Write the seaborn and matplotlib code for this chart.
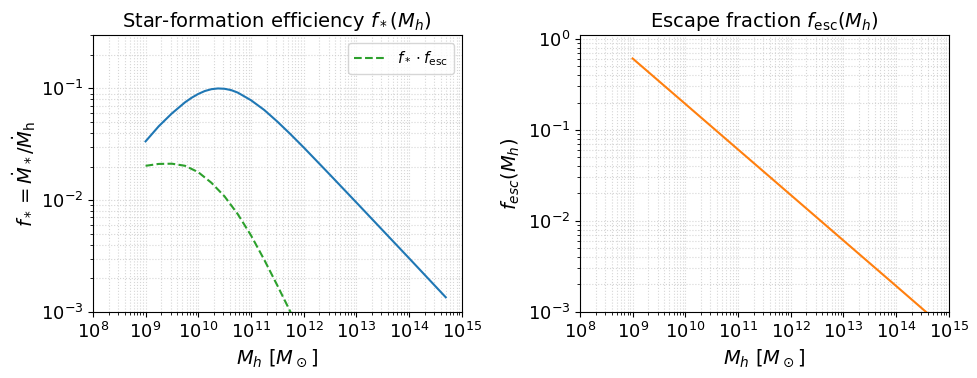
import numpy as np
import matplotlib
matplotlib.use("Agg")
import matplotlib.pyplot as plt
import matplotlib.ticker as mticker
import seaborn as sns

# halo masses [M_sun] and values
mh_star = [1e9, 1.78e9, 3.16e9, 5.62e9, 7.5e9, 1e10, 1.33e10, 1.78e10, 2.37e10,
           3.16e10, 4.22e10, 5.62e10, 1e11, 1.78e11, 3.16e11, 5.62e11, 1e12,
           3.16e12, 1e13, 3.16e13, 1e14, 3.16e14, 5e14]
f_star = [3.36e-2, 4.59e-2, 5.98e-2, 7.52e-2, 8.26e-2, 8.93e-2, 9.48e-2, 9.85e-2,
          1.0e-1, 9.93e-2, 9.66e-2, 9.18e-2, 7.85e-2, 6.43e-2, 5.06e-2, 3.90e-2,
          2.97e-2, 1.69e-2, 9.55e-3, 5.38e-3, 3.03e-3, 1.70e-3, 1.35e-3]

mh_prod = [1e9, 1.78e9, 3.16e9, 5.62e9, 1e10, 1.78e10, 3.16e10, 5.62e10,
           1e11, 1.78e11, 3.16e11, 5.62e11, 1e12]
f_prod = [2.03e-2, 2.11e-2, 2.12e-2, 2.03e-2, 1.78e-2, 1.43e-2, 1.08e-2, 7.5e-3,
          4.85e-3, 2.94e-3, 1.73e-3, 1.00e-3, 5.7e-4]

mh_esc = [1e9, 1e10, 1e11, 1e12, 1e13, 1e14, 5e14]
f_esc = [6.1e-1, 1.93e-1, 6.1e-2, 1.93e-2, 6.1e-3, 1.93e-3, 8.6e-4]

C_BLUE, C_ORANGE, C_GREEN = "#1f77b4", "#ff7f0e", "#2ca02c"

plt.rcParams.update({"font.size": 13, "mathtext.fontset": "dejavusans"})

fig = plt.figure(figsize=(9.78, 3.78), dpi=100)
ax1 = fig.add_axes([0.095, 0.175, 0.377, 0.732])
ax2 = fig.add_axes([0.593, 0.175, 0.377, 0.732])

sns.lineplot(x=mh_star, y=f_star, ax=ax1, color=C_BLUE, linewidth=1.5)
sns.lineplot(x=mh_prod, y=f_prod, ax=ax1, color=C_GREEN, linewidth=1.5,
             linestyle="--", label=r"$f_* \cdot f_{\rm esc}$")
sns.lineplot(x=mh_esc, y=f_esc, ax=ax2, color=C_ORANGE, linewidth=1.5)

for ax in (ax1, ax2):
    ax.set_xscale("log")
    ax.set_yscale("log")
    ax.set_xlim(1e8, 1e15)
    ax.xaxis.set_major_locator(mticker.LogLocator(base=10, numticks=20))
    ax.xaxis.set_minor_locator(mticker.LogLocator(base=10, subs=np.arange(2, 10), numticks=200))
    ax.xaxis.set_minor_formatter(mticker.NullFormatter())
    ax.grid(True, which="both", ls=":", lw=0.8, color="#cccccc", alpha=0.8)
    ax.set_xlabel(r"$M_h\ [M_\odot]$", fontsize=14)
    ax.tick_params(labelsize=13)

ax1.set_ylim(1e-3, 0.3)
ax2.set_ylim(1e-3, 1.1)

ax1.set_title(r"Star-formation efficiency $f_*(M_h)$", fontsize=14)
ax2.set_title(r"Escape fraction $f_{\rm esc}(M_h)$", fontsize=14)
ax1.set_ylabel(r"$f_* = \dot{M}_*/\dot{M}_{\rm h}$", fontsize=14, labelpad=2)
ax2.set_ylabel(r"$f_{esc}(M_h)$", fontsize=14)

ax1.legend(loc="upper right", fontsize=11)

fig.savefig("out.png", dpi=100)
